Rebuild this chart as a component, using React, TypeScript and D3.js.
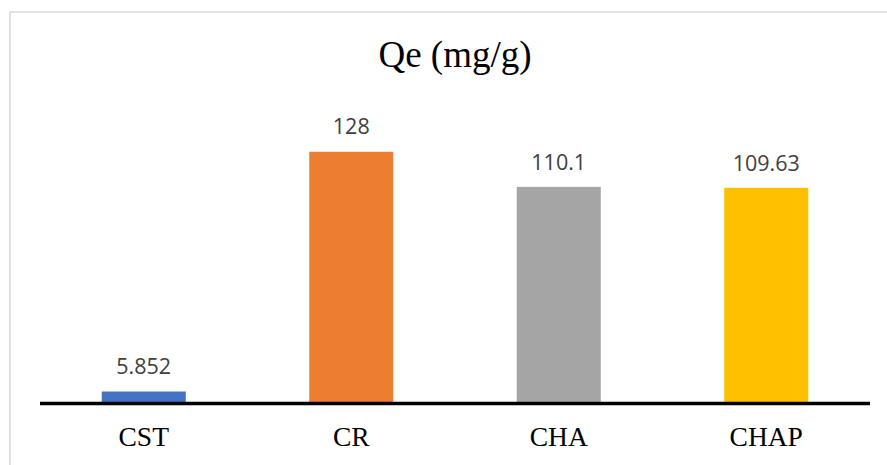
import React from "react";
import * as d3 from "d3";

// Adsorption capacity per material
const categories: string[] = ["CST", "CR", "CHA", "CHAP"];
const qeValues: number[] = [5.852, 128, 110.1, 109.63];
const valueLabels: string[] = ["5.852", "128", "110.1", "109.63"];
const barColors: string[] = ["#4472C4", "#ED7D31", "#A5A5A5", "#FFC000"];
const chartTitle = "Qe (mg/g)";

const W = 887;
const H = 465;
const plotLeft = 40;
const plotRight = 870;
const baseline = 403;
const plotTop = 128.2;

export default function App() {
  const x = d3
    .scaleBand<string>()
    .domain(categories)
    .range([plotLeft, plotRight])
    .paddingInner(0.595)
    .paddingOuter(0.2975);

  const y = d3.scaleLinear().domain([0, 140]).range([baseline, plotTop]);

  return (
    <svg
      width={W}
      height={H}
      style={{ position: "absolute", left: 0, top: 0, background: "#ffffff" }}
    >
      <rect x={0} y={0} width={W} height={H} fill="#ffffff" />
      {/* chart frame */}
      <rect
        x={10}
        y={12}
        width={W + 20}
        height={H + 20}
        fill="none"
        stroke="#d9d9d9"
        strokeWidth={1.5}
      />
      <text
        x={(plotLeft + plotRight) / 2}
        y={67}
        textAnchor="middle"
        fontFamily="'Liberation Serif', 'Times New Roman', serif"
        fontSize={37}
        fill="#000000"
      >
        {chartTitle}
      </text>

      {categories.map((c, i) => {
        const x0 = x(c) as number;
        const top = y(qeValues[i]);
        return (
          <g key={c}>
            <rect
              x={x0}
              y={top}
              width={x.bandwidth()}
              height={baseline - top}
              fill={barColors[i]}
            />
            <text
              x={x0 + x.bandwidth() / 2}
              y={top - 17.3}
              textAnchor="middle"
              fontFamily="'Open Sans', 'Liberation Sans', sans-serif"
              fontSize={21.5}
              fill="#404040"
            >
              {valueLabels[i]}
            </text>
            <text
              x={x0 + x.bandwidth() / 2}
              y={446}
              textAnchor="middle"
              fontFamily="'Liberation Serif', 'Times New Roman', serif"
              fontSize={27.5}
              fill="#000000"
            >
              {c}
            </text>
          </g>
        );
      })}

      {/* category axis */}
      <line
        x1={plotLeft}
        x2={plotRight}
        y1={y(0) + 0.5}
        y2={y(0) + 0.5}
        stroke="#000000"
        strokeWidth={3.5}
      />
    </svg>
  );
}
